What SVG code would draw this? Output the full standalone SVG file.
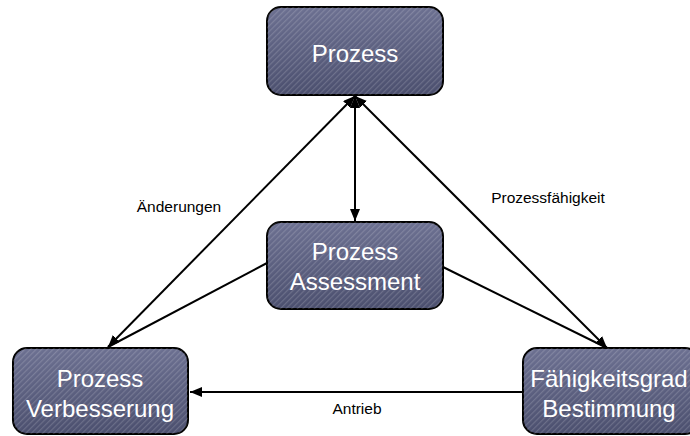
<svg xmlns="http://www.w3.org/2000/svg" width="690" height="436" viewBox="0 0 690 436">
<defs>
<linearGradient id="g" x1="0" y1="0" x2="0" y2="1">
<stop offset="0" stop-color="#6c7091"/>
<stop offset="1" stop-color="#4b4f6e"/>
</linearGradient>
<pattern id="st" width="4" height="4" patternUnits="userSpaceOnUse" patternTransform="rotate(-45)">
<rect width="4" height="1.2" fill="#ffffff" fill-opacity="0.16"/>
</pattern>
<marker id="ah" viewBox="0 0 12 10" refX="12" refY="5" markerWidth="12" markerHeight="10" markerUnits="userSpaceOnUse" orient="auto-start-reverse">
<path d="M0,0 L12,5 L0,10 Z" fill="#000"/>
</marker>
<style>
.box{fill:url(#g);stroke:#000;stroke-width:2}
.tx{fill:url(#st);stroke:none}
.lbl{font-family:"Liberation Sans",Arial,sans-serif;font-size:24px;fill:#fff;text-anchor:middle}
.cl{font-family:"Liberation Sans",Arial,sans-serif;font-size:15.5px;fill:#000;text-anchor:middle}
.c{stroke:#000;stroke-width:2;fill:none}
</style>
</defs>
<g id="connectors">
<line class="c" x1="355" y1="96" x2="355" y2="221" marker-start="url(#ah)" marker-end="url(#ah)"/>
<line class="c" x1="108" y1="347" x2="355" y2="96" marker-start="url(#ah)" marker-end="url(#ah)"/>
<line class="c" x1="607" y1="348" x2="355" y2="96" marker-start="url(#ah)" marker-end="url(#ah)"/>
<line class="c" x1="267" y1="263" x2="108" y2="347"/>
<line class="c" x1="443" y1="267" x2="607" y2="348"/>
<line class="c" x1="523" y1="392" x2="190" y2="392" marker-end="url(#ah)"/>
<text class="cl" x="179" y="212">Änderungen</text>
<text class="cl" x="548" y="203">Prozessfähigkeit</text>
<text class="cl" x="357" y="414">Antrieb</text>
</g>
<g id="prozess">
<rect class="box" x="267" y="7" width="176" height="88" rx="14"/>
<rect class="tx" x="267" y="7" width="176" height="88" rx="14"/>
<text class="lbl" x="355" y="62">Prozess</text>
</g>
<g id="assessment">
<rect class="box" x="267" y="222" width="176" height="87" rx="14"/>
<rect class="tx" x="267" y="222" width="176" height="87" rx="14"/>
<text class="lbl" x="355" y="260">Prozess</text>
<text class="lbl" x="355" y="290">Assessment</text>
</g>
<g id="verbesserung">
<rect class="box" x="13" y="348" width="175" height="86" rx="14"/>
<rect class="tx" x="13" y="348" width="175" height="86" rx="14"/>
<text class="lbl" x="100" y="387">Prozess</text>
<text class="lbl" x="100" y="417">Verbesserung</text>
</g>
<g id="bestimmung">
<rect class="box" x="523" y="348" width="176" height="86" rx="14"/>
<rect class="tx" x="523" y="348" width="176" height="86" rx="14"/>
<text class="lbl" x="609" y="387">Fähigkeitsgrad</text>
<text class="lbl" x="609" y="417">Bestimmung</text>
</g>
</svg>
